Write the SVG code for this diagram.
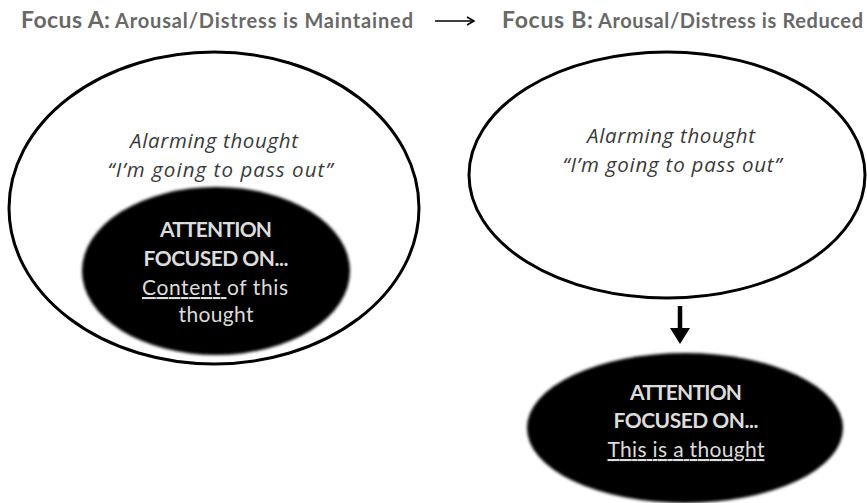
<svg xmlns="http://www.w3.org/2000/svg" width="867" height="503" viewBox="0 0 867 503">
<defs>
<style>
.hdr{font-family:Lato,"Open Sans","Liberation Sans",sans-serif;font-weight:bold;fill:#686868}
.big{font-size:23px}
.sm{font-size:20px}
.ital{font-family:"Open Sans",Lato,"Liberation Sans",sans-serif;font-style:italic;font-size:20.5px;fill:#3a3a3a;text-anchor:middle}
.att{font-family:Lato,"Open Sans","Liberation Sans",sans-serif;font-size:21px;fill:#dcdcdc;text-anchor:middle}
.b{font-weight:bold}
.outline{fill:#fff;stroke:#000;stroke-width:3}
.dark{fill:#000;filter:url(#soft)}
.conn{stroke:#000;fill:none}
</style>
<filter id="soft" x="-10%" y="-10%" width="120%" height="120%">
<feGaussianBlur stdDeviation="1.6"/>
</filter>
<marker id="open" markerWidth="10" markerHeight="10" refX="8" refY="5" orient="auto" markerUnits="userSpaceOnUse">
<path d="M1,1 L8,5 L1,9" fill="none" stroke="#000" stroke-width="1.5"/>
</marker>
</defs>

<g id="header">
<text x="21" y="28" class="hdr big" textLength="89">Focus A:</text>
<text x="115" y="28" class="hdr sm" textLength="298">Arousal/Distress is Maintained</text>
<text x="502" y="28" class="hdr big" textLength="91">Focus B:</text>
<text x="598" y="28" class="hdr sm" textLength="265">Arousal/Distress is Reduced</text>
</g>

<g id="connectors">
<line x1="435" y1="21" x2="474" y2="21" class="conn" stroke-width="1.6" marker-end="url(#open)"/>
<line x1="680" y1="306" x2="680" y2="330" class="conn" stroke-width="4.5"/>
<path d="M670,328 L690,328 L680,344 Z" fill="#000"/>
</g>

<g id="focusA-thought">
<ellipse cx="214" cy="208" rx="205" ry="156" class="outline"/>
<text x="214" y="148" class="ital" textLength="168">Alarming thought</text>
<text x="220" y="177" class="ital" textLength="225">“I’m going to pass out”</text>
</g>

<g id="focusA-attention">
<ellipse cx="216" cy="271" rx="134" ry="84" class="dark"/>
<text x="216" y="237" class="att b" textLength="112">ATTENTION</text>
<text x="216" y="266" class="att b" textLength="145">FOCUSED ON...</text>
<text x="215" y="295" class="att" textLength="146"><tspan text-decoration="underline">Content </tspan> of this</text>
<text x="216" y="322" class="att" textLength="75">thought</text>
</g>

<g id="focusB-thought">
<ellipse cx="667" cy="175" rx="198" ry="123" class="outline"/>
<text x="671" y="143" class="ital" textLength="168">Alarming thought</text>
<text x="672" y="172" class="ital" textLength="219">“I’m going to pass out”</text>
</g>

<g id="focusB-attention">
<ellipse cx="685" cy="428" rx="158" ry="75" class="dark"/>
<text x="686" y="400" class="att b" textLength="112">ATTENTION</text>
<text x="686" y="428" class="att b" textLength="145">FOCUSED ON...</text>
<text x="686" y="457" class="att" text-decoration="underline" textLength="157">This is a thought</text>
</g>
</svg>
